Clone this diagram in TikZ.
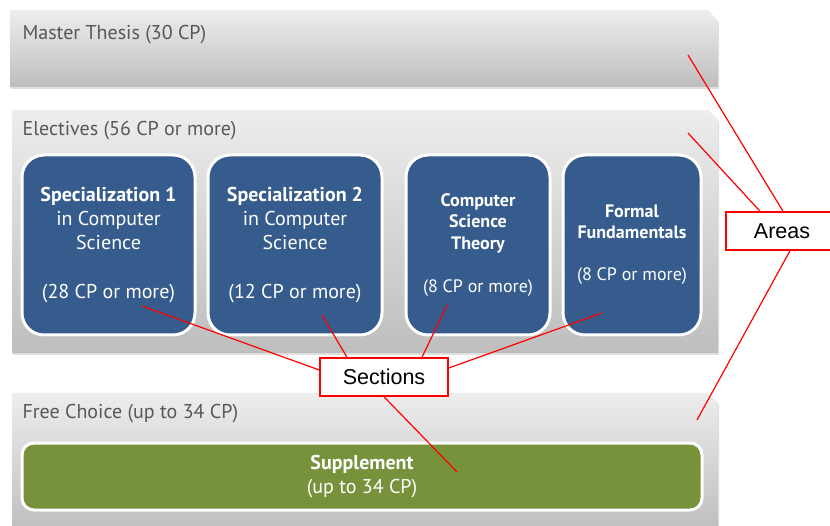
\documentclass[tikz,border=0pt]{standalone}
\usepackage{fontspec}
\setmainfont{PT Sans}
\newfontfamily\calloutfont{Liberation Sans}
\usetikzlibrary{shadows}

\definecolor{secblue}{RGB}{54,92,141}
\definecolor{supgreen}{RGB}{119,146,59}
\definecolor{areatop}{RGB}{237,237,237}
\definecolor{areabot}{RGB}{190,190,190}
\definecolor{titlegray}{RGB}{88,88,88}

\begin{document}
\begin{tikzpicture}[x=1pt, y=-1pt,
	area/.style={top color=areatop, bottom color=areabot, drop shadow={opacity=0.25, shadow xshift=1pt, shadow yshift=-2pt}},
	area title/.style={anchor=base west, text=titlegray, font=\fontsize{20}{22}\selectfont},
	section/.style={draw=white, line width=3pt, fill=secblue, rounded corners=22pt, text=white, align=center, inner sep=0pt, drop shadow={opacity=0.3, shadow xshift=1pt, shadow yshift=-1.5pt}},
	callout/.style={draw=red, line width=1.5pt, fill=white, font=\calloutfont\fontsize{21.5}{24}\selectfont},
	pin line/.style={red, line width=1.2pt}]
	\useasboundingbox (0,0) rectangle (830,526);
	
	% areas
	\path[area] (10,10) -- (708,10) -- (718,21) -- (718,87) -- (10,87) -- cycle;
	\path[area] (12,110) -- (708,110) -- (718,120) -- (718,353) -- (12,353) -- cycle;
	\path[area] (12,393) -- (708,393) -- (718,403) -- (718,532) -- (12,532) -- cycle;
	\node [area title] (thesis) at (19,40) {Master Thesis (30 CP)};
	\node [area title] (electives) at (19,136) {Electives (56 CP or more)};
	\node [area title] (free) at (19,418) {Free Choice (up to 34 CP)};
	
	% sections
	\node [section, minimum width=173pt, minimum height=180pt, font=\fontsize{20}{24}\selectfont] (spec1) at (108.5,245)
		{\textbf{Specialization 1}\\in Computer\\Science\\[25pt](28 CP or more)};
	\node [section, minimum width=174pt, minimum height=180pt, font=\fontsize{20}{24}\selectfont] (spec2) at (295,245)
		{\textbf{Specialization 2}\\in Computer\\Science\\[25pt](12 CP or more)};
	\node [section, minimum width=144pt, minimum height=180pt, font=\fontsize{18}{21.5}\selectfont] (theory) at (478,245)
		{\textbf{Computer}\\\textbf{Science}\\\textbf{Theory}\\[21.5pt](8 CP or more)};
	\node [section, minimum width=138pt, minimum height=180pt, font=\fontsize{18}{21}\selectfont] (formal) at (632,245)
		{\textbf{Formal}\\\textbf{Fundamentals}\\[21pt](8 CP or more)};
	\node [section, fill=supgreen, rounded corners=12pt, minimum width=680pt, minimum height=67pt, font=\fontsize{20}{24}\selectfont] (supplement) at (362,476.5)
		{\textbf{Supplement}\\(up to 34 CP)};
	
	% callouts
	\coordinate (thesis pin) at (688,55);
	\coordinate (electives pin) at (688,133);
	\coordinate (free pin) at (697,420);
	\coordinate (spec1 pin) at (142,306);
	\coordinate (spec2 pin) at (322,315);
	\coordinate (theory pin) at (447,305);
	\coordinate (formal pin) at (602,313);
	\coordinate (supplement pin) at (457,472);
	
	\node [callout, minimum width=112pt, minimum height=38pt] (areas) at (782,231) {Areas};
	\node [callout, minimum width=128pt, minimum height=38pt] (sections) at (384,377) {Sections};
	
	\draw [pin line] ([xshift=1pt]areas.north) -- (thesis pin);
	\draw [pin line] ([xshift=-22pt]areas.north) -- (electives pin);
	\draw [pin line] ([xshift=8pt]areas.south) -- (free pin);
	\draw [pin line] ([yshift=7pt]sections.west) -- (spec1 pin);
	\draw [pin line] ([xshift=-37pt]sections.north) -- (spec2 pin);
	\draw [pin line] ([xshift=38pt]sections.north) -- (theory pin);
	\draw [pin line] ([yshift=9pt]sections.east) -- (formal pin);
	\draw [pin line] (sections.south) -- (supplement pin);
\end{tikzpicture}
\end{document}
